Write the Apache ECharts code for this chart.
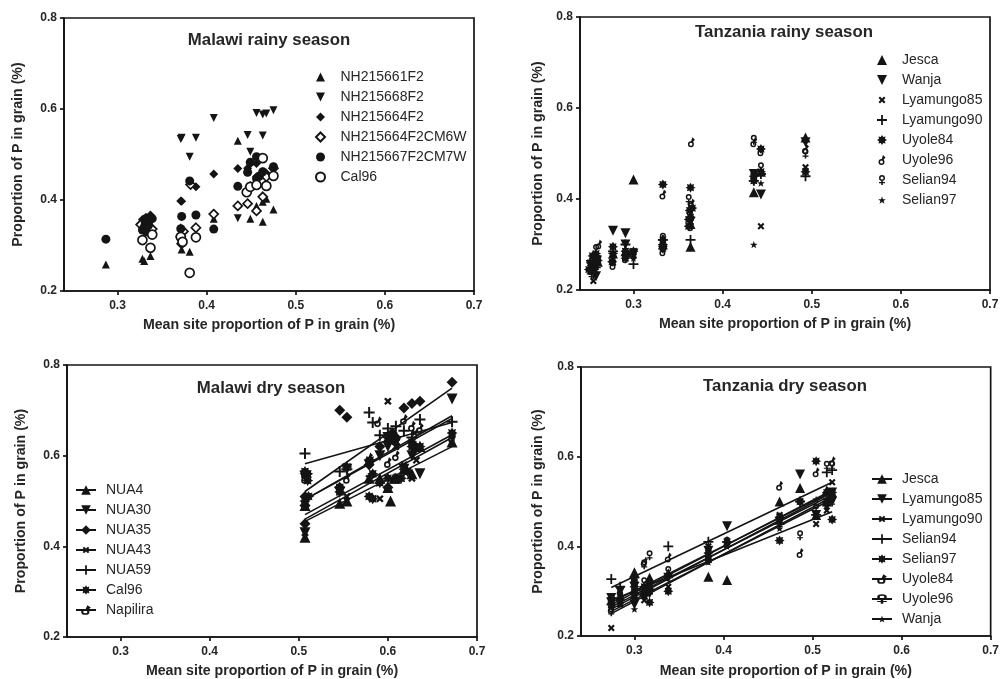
<!DOCTYPE html>
<html>
<head>
<meta charset="utf-8">
<style>
  html, body { margin: 0; background: #fff; }
  #chart { width: 1002px; height: 679px; }
</style>
<script src="https://cdn.jsdelivr.net/npm/echarts@6/dist/echarts.min.js"></script>
</head>
<body>
<div id="chart"></div>
<script>
const xTicks = [0.3, 0.4, 0.5, 0.6, 0.7]

// Malawi rainy season, [site mean, proportion]
const mrNH215661F2 = [[.287,.258],[.328,.271],[.33,.266],[.337,.277],[.372,.291],[.371,.34],[.381,.286],[.408,.359],[.435,.53],[.449,.359],[.456,.387],[.463,.352],[.463,.396],[.467,.403],[.475,.379]]
const mrNH215668F2 = [[.372,.537],[.371,.534],[.388,.537],[.381,.495],[.408,.58],[.435,.36],[.446,.543],[.449,.506],[.456,.591],[.463,.588],[.467,.59],[.475,.597],[.463,.542],[.33,.34],[.337,.352]]
const mrNH215664F2 = [[.328,.357],[.33,.359],[.337,.367],[.334,.35],[.332,.362],[.335,.345],[.372,.397],[.371,.398],[.388,.429],[.408,.457],[.435,.469],[.446,.47],[.449,.48],[.456,.48],[.456,.451],[.463,.462],[.475,.47],[.467,.459]]
const mrCM6W = [[.326,.346],[.33,.334],[.339,.336],[.371,.319],[.372,.304],[.374,.331],[.382,.434],[.388,.339],[.408,.369],[.435,.387],[.446,.392],[.456,.376],[.463,.407],[.449,.429],[.467,.451],[.475,.47]]
const mrCM7W = [[.287,.314],[.328,.334],[.33,.341],[.333,.33],[.339,.359],[.331,.352],[.335,.345],[.372,.364],[.371,.337],[.381,.442],[.388,.367],[.408,.336],[.435,.43],[.446,.461],[.449,.483],[.456,.495],[.456,.447],[.459,.452],[.463,.462],[.475,.473]]
const mrCal96 = [[.328,.312],[.337,.295],[.339,.324],[.371,.319],[.373,.308],[.381,.24],[.388,.318],[.445,.417],[.449,.429],[.456,.433],[.463,.492],[.467,.431],[.475,.453]]

// Tanzania rainy season
const trJesca = [[.255,.26],[.258,.275],[.253,.245],[.26,.262],[.277,.28],[.291,.285],[.3,.443],[.333,.3],[.364,.295],[.364,.345],[.435,.415],[.443,.46],[.493,.535]]
const trWanja = [[.255,.24],[.259,.265],[.252,.255],[.258,.23],[.277,.33],[.291,.325],[.291,.3],[.3,.28],[.333,.29],[.364,.35],[.435,.455],[.443,.41],[.493,.525]]
const trLyamungo85 = [[.255,.22],[.252,.25],[.26,.27],[.277,.26],[.291,.28],[.3,.275],[.333,.29],[.364,.34],[.443,.34],[.435,.45],[.493,.47]]
const trLyamungo90 = [[.255,.235],[.258,.255],[.277,.285],[.291,.3],[.3,.257],[.333,.31],[.364,.31],[.435,.44],[.443,.455],[.493,.45]]
const trUyole84 = [[.254,.275],[.252,.26],[.256,.245],[.258,.28],[.26,.265],[.25,.245],[.277,.295],[.277,.28],[.276,.262],[.291,.27],[.291,.285],[.293,.278],[.3,.285],[.333,.432],[.333,.31],[.333,.295],[.363,.375],[.364,.425],[.362,.355],[.364,.36],[.366,.38],[.362,.34],[.435,.45],[.443,.51],[.443,.46],[.435,.44],[.493,.46]]
const trUyole96 = [[.261,.3],[.255,.25],[.254,.27],[.277,.255],[.291,.28],[.291,.27],[.3,.28],[.333,.41],[.333,.285],[.365,.525],[.364,.34],[.365,.39],[.435,.525],[.443,.505],[.493,.51]]
const trSelian94 = [[.258,.29],[.253,.235],[.26,.255],[.277,.27],[.291,.28],[.3,.28],[.333,.3],[.333,.315],[.362,.4],[.363,.365],[.364,.385],[.435,.53],[.443,.47],[.493,.5]]
const trSelian97 = [[.255,.25],[.277,.28],[.291,.29],[.3,.27],[.333,.3],[.364,.36],[.435,.3],[.443,.435],[.493,.53]]

// Malawi dry season
const mdNUA4 = [[.507,.42],[.507,.49],[.546,.495],[.554,.5],[.579,.55],[.591,.55],[.603,.5],[.6,.53],[.607,.55],[.609,.55],[.618,.57],[.627,.56],[.636,.62],[.672,.63]]
const mdNUA30 = [[.507,.43],[.507,.555],[.546,.52],[.554,.57],[.579,.58],[.591,.6],[.6,.62],[.6,.64],[.609,.63],[.618,.57],[.627,.6],[.63,.61],[.636,.56],[.672,.725]]
const mdNUA35 = [[.507,.45],[.507,.51],[.507,.49],[.546,.7],[.546,.53],[.554,.685],[.579,.58],[.591,.62],[.6,.53],[.6,.63],[.605,.65],[.609,.64],[.618,.705],[.627,.715],[.63,.62],[.636,.72],[.672,.762]]
const mdNUA43 = [[.507,.43],[.546,.53],[.554,.51],[.579,.55],[.591,.505],[.6,.72],[.609,.62],[.61,.63],[.618,.58],[.627,.55],[.632,.59],[.63,.65],[.672,.645]]
const mdNUA59 = [[.507,.605],[.546,.565],[.554,.57],[.579,.695],[.583,.673],[.591,.645],[.6,.66],[.609,.665],[.618,.655],[.627,.64],[.636,.68],[.672,.675]]
const mdCal96 = [[.507,.565],[.507,.56],[.51,.56],[.507,.49],[.507,.5],[.511,.51],[.51,.545],[.546,.53],[.546,.52],[.554,.575],[.579,.51],[.58,.59],[.583,.505],[.583,.56],[.591,.54],[.6,.64],[.6,.55],[.605,.635],[.609,.55],[.615,.55],[.618,.57],[.622,.565],[.627,.63],[.627,.62],[.636,.62],[.672,.65]]
const mdNapilira = [[.507,.55],[.507,.56],[.546,.525],[.554,.55],[.579,.595],[.589,.675],[.6,.585],[.609,.6],[.618,.68],[.627,.665],[.636,.66],[.672,.64]]
const mdFitNUA4 = [[.507,.455],[.672,.62]]
const mdFitNUA30 = [[.507,.503],[.672,.688]]
const mdFitNUA35 = [[.507,.521],[.672,.749]]
const mdFitNUA43 = [[.507,.46],[.672,.64]]
const mdFitNUA59 = [[.507,.582],[.672,.673]]
const mdFitCal96 = [[.507,.503],[.672,.682]]
const mdFitNapilira = [[.507,.47],[.672,.646]]

// Tanzania dry season
const tdJesca = [[.274,.28],[.284,.29],[.3,.342],[.3,.305],[.311,.3],[.317,.31],[.317,.33],[.338,.34],[.383,.332],[.404,.325],[.463,.5],[.486,.53],[.504,.47],[.516,.5],[.516,.525],[.522,.52]]
const tdLyamungo85 = [[.274,.285],[.274,.275],[.284,.3],[.3,.31],[.3,.27],[.311,.3],[.317,.31],[.317,.295],[.338,.33],[.383,.39],[.404,.445],[.463,.455],[.486,.56],[.504,.47],[.516,.49],[.522,.52],[.522,.5]]
const tdLyamungo90 = [[.274,.218],[.284,.27],[.3,.29],[.311,.28],[.317,.3],[.338,.31],[.383,.4],[.404,.41],[.463,.47],[.486,.5],[.504,.45],[.516,.48],[.522,.543]]
const tdSelian94 = [[.274,.327],[.284,.31],[.3,.33],[.311,.3],[.317,.32],[.338,.4],[.383,.41],[.404,.41],[.463,.45],[.486,.5],[.504,.47],[.516,.565],[.522,.57]]
const tdSelian97 = [[.274,.27],[.274,.285],[.284,.28],[.3,.31],[.3,.285],[.3,.32],[.311,.29],[.311,.31],[.317,.275],[.317,.3],[.338,.3],[.383,.385],[.383,.37],[.404,.41],[.463,.413],[.463,.465],[.486,.5],[.504,.59],[.516,.52],[.516,.5],[.522,.46],[.522,.52]]
const tdUyole84 = [[.274,.26],[.284,.3],[.3,.33],[.311,.365],[.317,.32],[.338,.375],[.383,.38],[.404,.405],[.463,.535],[.486,.385],[.504,.565],[.516,.5],[.522,.59]]
const tdUyole96 = [[.274,.255],[.284,.29],[.3,.3],[.3,.32],[.311,.36],[.311,.32],[.317,.38],[.338,.345],[.383,.37],[.404,.41],[.463,.46],[.463,.45],[.486,.425],[.504,.485],[.516,.58],[.522,.58],[.522,.5]]
const tdWanja = [[.274,.265],[.284,.27],[.3,.26],[.311,.29],[.317,.31],[.338,.33],[.383,.365],[.404,.4],[.463,.44],[.486,.5],[.504,.505],[.516,.5],[.522,.51]]
const tdFitJesca = [[.274,.27],[.522,.525]]
const tdFitLyamungo85 = [[.274,.275],[.522,.522]]
const tdFitLyamungo90 = [[.274,.308],[.522,.543]]
const tdFitSelian94 = [[.274,.265],[.522,.515]]
const tdFitSelian97 = [[.274,.28],[.522,.477]]
const tdFitUyole84 = [[.274,.26],[.522,.52]]
const tdFitUyole96 = [[.274,.255],[.522,.505]]
const tdFitWanja = [[.274,.25],[.522,.51]]

const INK = '#141414'
const TEXT = '#262626'
const FONT = '"Liberation Sans", Arial, sans-serif'

const up = 'path://M5,0L10,10L0,10Z'
const down = 'path://M0,0L10,0L5,10Z'
const diamond = 'path://M5,0L10,5L5,10L0,5Z'
const disc = 'path://M5,0A5,5,0,1,1,5,10A5,5,0,1,1,5,0Z'
// the zero length M0,0 / M10,10 bits keep these inside the same 10x10 box as the big markers
const cross = 'path://M0,0L0,0M10,10L10,10M3,1.5L5,3.5L7,1.5L8.5,3L6.5,5L8.5,7L7,8.5L5,6.5L3,8.5L1.5,7L3.5,5L1.5,3Z'
const plus = 'path://M4.1,0L5.9,0L5.9,4.1L10,4.1L10,5.9L5.9,5.9L5.9,10L4.1,10L4.1,5.9L0,5.9L0,4.1L4.1,4.1Z'
const burst = 'path://M10,5L7.96,6.22L8.54,8.54L6.22,7.96L5,10L3.78,7.96L1.46,8.54L2.04,6.22L0,5L2.04,3.78L1.46,1.46L3.78,2.04L5,0L6.22,2.04L8.54,1.46L7.96,3.78Z'
const male = 'path://M4,4A3,3,0,1,1,4,10A3,3,0,1,1,4,4ZM4,5.5A1.5,1.5,0,1,0,4,8.5A1.5,1.5,0,1,0,4,5.5ZM4.2,4.2L5.5,0L8,2.5L5.8,5Z'
const female = 'path://M5,0A3,3,0,1,1,5,6A3,3,0,1,1,5,0ZM5,1.5A1.5,1.5,0,1,0,5,4.5A1.5,1.5,0,1,0,5,1.5ZM4.2,5.5L5.8,5.5L5.8,7L8,7L8,8.2L5.8,8.2L5.8,10L4.2,10L4.2,8.2L2,8.2L2,7L4.2,7Z'
const star = 'path://M0,0L0,0M10,10L10,10M5,1.5L6,4.2L8.8,4.2L6.6,6L7.4,8.7L5,7.1L2.6,8.7L3.4,6L1.2,4.2L4,4.2Z'

const panels = [
  {
    title: 'Malawi rainy season', titleX: 269, titleY: 40, yNameGap: 39, xNameGap: 27,
    grid: { left: 64, top: 18, width: 410, height: 273 },
    legend: { left: 315, top: 67, itemWidth: 14, itemHeight: 9, textGap: 8 },
    size: 9,
    rows: [
      { label: 'NH215661F2', symbol: up, points: mrNH215661F2, size: 8 },
      { label: 'NH215668F2', symbol: down, points: mrNH215668F2, size: 8 },
      { label: 'NH215664F2', symbol: diamond, points: mrNH215664F2 },
      { label: 'NH215664F2CM6W', symbol: diamond, points: mrCM6W, open: true },
      { label: 'NH215667F2CM7W', symbol: disc, points: mrCM7W },
      { label: 'Cal96', symbol: disc, points: mrCal96, open: true }
    ]
  },
  {
    title: 'Tanzania rainy season', titleX: 784, titleY: 32, yNameGap: 35, xNameGap: 27,
    grid: { left: 580, top: 17, width: 410, height: 273 },
    legend: { left: 877, top: 50, itemWidth: 14, itemHeight: 10, textGap: 8 },
    size: 10,
    rows: [
      { label: 'Jesca', symbol: up, points: trJesca },
      { label: 'Wanja', symbol: down, points: trWanja },
      { label: 'Lyamungo85', symbol: cross, points: trLyamungo85 },
      { label: 'Lyamungo90', symbol: plus, points: trLyamungo90 },
      { label: 'Uyole84', symbol: burst, points: trUyole84 },
      { label: 'Uyole96', symbol: male, points: trUyole96 },
      { label: 'Selian94', symbol: female, points: trSelian94 },
      { label: 'Selian97', symbol: star, points: trSelian97 }
    ]
  },
  {
    title: 'Malawi dry season', titleX: 271, titleY: 388, yNameGap: 39, xNameGap: 27,
    grid: { left: 67, top: 365, width: 410, height: 272 },
    legend: { left: 75, top: 480, itemWidth: 20, itemHeight: 12, textGap: 5 },
    size: 11,
    rows: [
      { label: 'NUA4', symbol: up, points: mdNUA4, fit: mdFitNUA4 },
      { label: 'NUA30', symbol: down, points: mdNUA30, fit: mdFitNUA30 },
      { label: 'NUA35', symbol: diamond, points: mdNUA35, fit: mdFitNUA35 },
      { label: 'NUA43', symbol: cross, points: mdNUA43, fit: mdFitNUA43 },
      { label: 'NUA59', symbol: plus, points: mdNUA59, fit: mdFitNUA59 },
      { label: 'Cal96', symbol: burst, points: mdCal96, fit: mdFitCal96 },
      { label: 'Napilira', symbol: male, points: mdNapilira, fit: mdFitNapilira }
    ]
  },
  {
    title: 'Tanzania dry season', titleX: 785, titleY: 386, yNameGap: 36, xNameGap: 28,
    grid: { left: 581, top: 367, width: 410, height: 272 },
    legend: { left: 871, top: 469, itemWidth: 20, itemHeight: 12, textGap: 5 },
    size: 10,
    rows: [
      { label: 'Jesca', symbol: up, points: tdJesca, fit: tdFitJesca },
      { label: 'Lyamungo85', symbol: down, points: tdLyamungo85, fit: tdFitLyamungo85 },
      { label: 'Lyamungo90', symbol: cross, points: tdLyamungo90, fit: tdFitLyamungo90 },
      { label: 'Selian94', symbol: plus, points: tdSelian94, fit: tdFitSelian94 },
      { label: 'Selian97', symbol: burst, points: tdSelian97, fit: tdFitSelian97 },
      { label: 'Uyole84', symbol: male, points: tdUyole84, fit: tdFitUyole84 },
      { label: 'Uyole96', symbol: female, points: tdUyole96, fit: tdFitUyole96 },
      { label: 'Wanja', symbol: star, points: tdWanja, fit: tdFitWanja }
    ]
  }
]

const axisStyle = { lineStyle: { color: INK, width: 1.7 } }
const tickFont = { color: TEXT, fontFamily: FONT, fontWeight: 'bold', fontSize: 12 }
const nameFont = { color: TEXT, fontFamily: FONT, fontWeight: 'bold', fontSize: 14.2 }

const series = []
panels.forEach((panel, p) => {
  panel.rows.forEach(row => {
    // names have to stay unique per panel, the legend formatter drops the prefix
    const name = p + '|' + row.label
    if (row.fit) {
      series.push({
        type: 'line', name, xAxisIndex: p, yAxisIndex: p, data: row.fit,
        symbol: row.symbol, symbolKeepAspect: true, showSymbol: false, silent: true,
        itemStyle: { color: INK }, lineStyle: { color: INK, width: 1.6 }
      })
    }
    series.push({
      type: 'scatter', name, xAxisIndex: p, yAxisIndex: p, data: row.points,
      symbol: row.symbol, symbolKeepAspect: true, symbolSize: row.size || panel.size,
      itemStyle: row.open
        ? { color: '#fff', borderColor: INK, borderWidth: 1.7, opacity: 1 }
        : { color: INK, opacity: 1 }
    })
  })
})

const option = {
  animation: false,
  backgroundColor: '#fff',
  title: panels.map(panel => ({
    text: panel.title, left: panel.titleX, top: panel.titleY, padding: 0,
    textAlign: 'center', textVerticalAlign: 'middle',
    textStyle: { color: TEXT, fontFamily: FONT, fontWeight: 'bold', fontSize: 16.8 }
  })),
  grid: panels.map(panel => ({
    ...panel.grid, show: true, borderColor: INK, borderWidth: 1.7, backgroundColor: 'transparent'
  })),
  xAxis: panels.map((panel, p) => ({
    type: 'value', gridIndex: p, min: 0.24, max: 0.7,
    name: 'Mean site proportion of P in grain (%)', nameLocation: 'middle', nameGap: panel.xNameGap,
    nameTextStyle: nameFont, splitLine: { show: false },
    axisLine: axisStyle,
    axisTick: { customValues: xTicks, length: 4, lineStyle: axisStyle.lineStyle },
    axisLabel: { ...tickFont, customValues: xTicks, margin: 9, formatter: v => v.toFixed(1) }
  })),
  yAxis: panels.map((panel, p) => ({
    type: 'value', gridIndex: p, min: 0.2, max: 0.8, interval: 0.2,
    name: 'Proportion of P in grain (%)', nameLocation: 'middle', nameGap: panel.yNameGap,
    nameTextStyle: nameFont, splitLine: { show: false },
    axisLine: axisStyle,
    axisTick: { length: 4, lineStyle: axisStyle.lineStyle },
    axisLabel: { ...tickFont, margin: 7, formatter: v => v.toFixed(1) }
  })),
  legend: panels.map((panel, p) => ({
    orient: 'vertical', left: panel.legend.left, top: panel.legend.top, padding: 0, itemGap: 0,
    itemWidth: panel.legend.itemWidth, itemHeight: panel.legend.itemHeight,
    selectedMode: false, symbolKeepAspect: true,
    data: panel.rows.map(row => p + '|' + row.label),
    formatter: name => name.split('|')[1],
    textStyle: {
      color: TEXT, fontFamily: FONT, fontSize: 14, lineHeight: 20,
      padding: [0, 0, 0, panel.legend.textGap]
    }
  })),
  series
}

const chart = echarts.init(document.getElementById('chart'))
chart.setOption(option)
</script>
</body>
</html>
